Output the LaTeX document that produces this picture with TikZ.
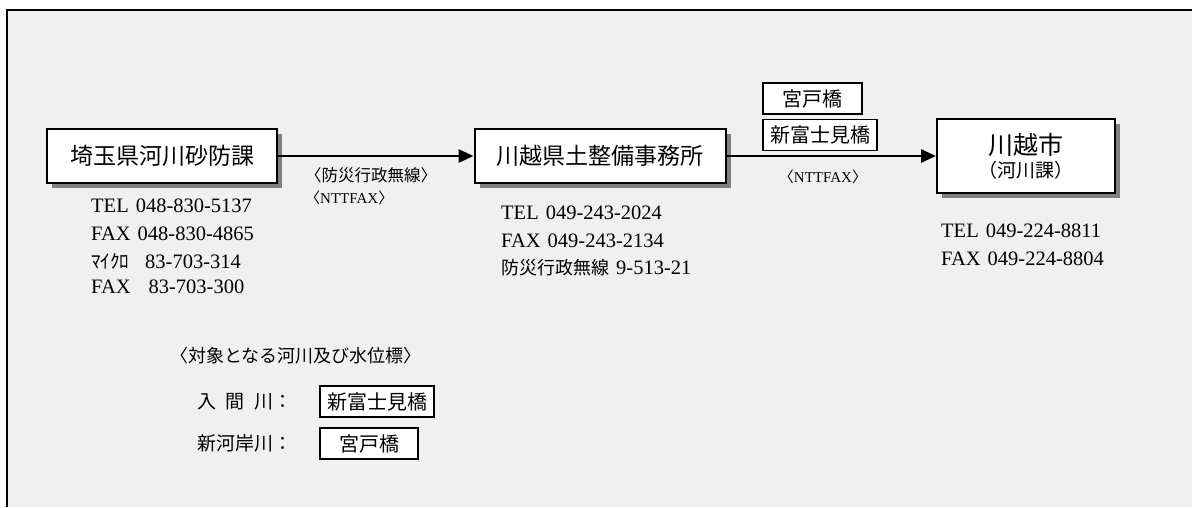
\documentclass[tikz,border=0pt]{standalone}
\usepackage{fontspec}
\setmainfont{Liberation Serif}
\newfontfamily\jp{Noto Sans CJK JP}
\usetikzlibrary{arrows.meta, shadows}
\definecolor{paper}{HTML}{F0F0F0}
\tikzstyle{office} = [draw, line width=2pt, fill=white, rectangle, inner sep=0pt, drop shadow={shadow xshift=5pt, shadow yshift=-5pt, fill=black!50, opacity=1}]
\tikzstyle{bridge} = [draw, line width=1.2pt, fill=white, rectangle, inner sep=0pt, minimum height=31pt, font=\jp\fontsize{20}{24}\selectfont]
\tikzstyle{contact} = [anchor=west, inner sep=0pt, font=\fontsize{20.5}{24}\selectfont]
\tikzstyle{medium} = [anchor=west, inner sep=0pt, font=\fontsize{15}{18}\selectfont]
\tikzstyle{link} = [-{Triangle[length=15pt, width=13pt]}, line width=2.8pt]

\begin{document}
\begin{tikzpicture}[x=1pt, y=-1pt]
    \useasboundingbox (0,0) rectangle (1192,507);
    \fill [paper] (7,10) rectangle (1192,507);
    \draw [line width=1.5pt] (7,507) -- (7,10) -- (1192,10);

    \node (saitama) [office, minimum width=230pt, minimum height=54pt, font=\jp\fontsize{23}{28}\selectfont] at (162,156) {埼玉県河川砂防課};
    \node (doboku) [office, minimum width=251pt, minimum height=54pt, font=\jp\fontsize{23}{28}\selectfont] at (600,156) {川越県土整備事務所};
    \node (city) [office, minimum width=178pt, minimum height=74pt, align=center, font=\jp\fontsize{19}{22}\selectfont] at (1026,156) {{\fontsize{25}{30}\selectfont 川越市}\\[1pt]（河川課）};

    % Arrows.
    \draw [link] (saitama) -- (doboku);
    \draw [link] (doboku) -- (city);

    \node (medium 1) [medium] at (305,175) {\jp\fontsize{16.5}{20}\selectfont 〈防災行政無線〉};
    \node (medium 2) [medium] at (305,198) {{\jp 〈}NTTFAX{\jp 〉}};
    \node (medium 3) [medium, anchor=center] at (823,177) {{\jp 〈}NTTFAX{\jp 〉}};

    \node (gauge 1) [bridge, minimum width=99pt] at (812.5,98.5) {宮戸橋};
    \node (gauge 2) [bridge, minimum width=114pt] at (820,135) {新富士見橋};

    % Contact lines.
    \node (saitama tel) [contact] at (91,206) {TEL\hspace{7pt}048-830-5137};
    \node (saitama fax) [contact] at (91,234) {FAX\hspace{7pt}048-830-4865};
    \node (saitama mw) [contact] at (91,261) {{\jp\fontsize{19}{23}\selectfont ﾏｲｸﾛ}\hspace{16pt}83-703-314};
    \node (saitama mwfax) [contact] at (91,287) {FAX\hspace{18pt}83-703-300};

    \node (doboku tel) [contact] at (501,213) {TEL\hspace{7pt}049-243-2024};
    \node (doboku fax) [contact] at (501,241) {FAX\hspace{7pt}049-243-2134};
    \node (doboku radio) [contact] at (501,268) {{\jp\fontsize{18}{22}\selectfont 防災行政無線}\hspace{7pt}9-513-21};

    \node (city tel) [contact] at (941,231) {TEL\hspace{7pt}049-224-8811};
    \node (city fax) [contact] at (941,259) {FAX\hspace{7pt}049-224-8804};

    % Target rivers and gauges.
    \node (rivers) [contact, font=\jp\fontsize{18}{22}\selectfont] at (170,356) {〈対象となる河川及び水位標〉};
    \node (river 1) [contact, font=\jp\fontsize{19}{23}\selectfont] at (197,402) {\makebox[4em][s]{入\hfill 間\hfill 川}：};
    \node (river 2) [contact, font=\jp\fontsize{19}{23}\selectfont] at (197,443) {新河岸川：};
    \node (river 1 gauge) [bridge, minimum width=114pt] at (377,401.5) {新富士見橋};
    \node (river 2 gauge) [bridge, minimum width=98pt] at (369,443.5) {宮戸橋};
\end{tikzpicture}
\end{document}
